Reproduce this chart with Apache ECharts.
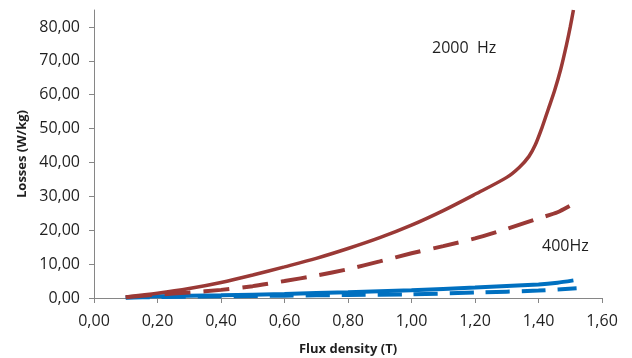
<!DOCTYPE html>
<html>
<head>
<meta charset="utf-8">
<script src="https://cdn.jsdelivr.net/npm/echarts@6/dist/echarts.min.js"></script>
<style>
  html, body { margin: 0; padding: 0; background: #fff; }
  #chart { width: 632px; height: 358px; }
</style>
</head>
<body>
<div id="chart"></div>
<script>
// 2000 Hz, solid
var redSolidX = [0.10, 0.20, 0.30, 0.40, 0.50, 0.60, 0.70, 0.80, 0.90, 1.00, 1.10, 1.20, 1.30, 1.34, 1.37, 1.39, 1.41, 1.43, 1.45, 1.47, 1.49, 1.50, 1.51]
var redSolidY = [0.3, 1.4, 2.8, 4.6, 6.8, 9.2, 11.7, 14.6, 17.8, 21.5, 25.8, 30.6, 35.6, 38.6, 41.8, 45.2, 50.0, 55.5, 61.0, 67.5, 75.5, 80.0, 85.0]
// 2000 Hz, dashed
var redDashX = [0.10, 0.20, 0.30, 0.40, 0.50, 0.60, 0.70, 0.80, 0.90, 1.00, 1.10, 1.20, 1.30, 1.40, 1.46, 1.52]
var redDashY = [0.2, 1.0, 1.6, 2.4, 3.5, 5.0, 6.6, 8.5, 10.8, 13.2, 15.3, 17.6, 20.4, 23.5, 25.3, 28.3]
// 400 Hz, solid
var blueSolidX = [0.10, 0.20, 0.40, 0.60, 0.80, 1.00, 1.20, 1.40, 1.46, 1.51]
var blueSolidY = [0.2, 0.5, 0.8, 1.2, 1.7, 2.3, 3.1, 4.0, 4.5, 5.2]
// 400 Hz, dashed
var blueDashX = [0.10, 0.20, 0.40, 0.60, 0.80, 1.00, 1.20, 1.40, 1.52]
var blueDashY = [0.1, 0.3, 0.5, 0.7, 0.9, 1.1, 1.6, 2.2, 2.9]

var yTicks = [0, 10, 20, 30, 40, 50, 60, 70, 80]

function pairs(xs, ys) {
  return xs.map(function (x, i) { return [x, ys[i]] })
}
function comma(v) {
  return v.toFixed(2).replace('.', ',')
}

var fontFamily = 'Open Sans'
var textColor = '#1f1f1f'
var axisColor = '#868686'

var chart = echarts.init(document.getElementById('chart'))
chart.setOption({
  animation: false,
  grid: { left: 94, right: 30, top: 10, bottom: 60, outerBoundsMode: 'none' },
  xAxis: {
    type: 'value',
    min: 0,
    max: 1.6,
    interval: 0.2,
    name: 'Flux density (T)',
    nameLocation: 'middle',
    nameGap: 45,
    nameTextStyle: { fontFamily: fontFamily, fontSize: 13, fontWeight: 'bold', color: textColor },
    axisLine: { lineStyle: { color: axisColor, width: 1 } },
    axisTick: { show: true, length: 5, lineStyle: { color: axisColor } },
    axisLabel: {
      margin: 15,
      fontFamily: fontFamily,
      fontSize: 16,
      color: textColor,
      formatter: comma
    },
    splitLine: { show: false }
  },
  yAxis: {
    type: 'value',
    min: 0,
    max: 85,
    interval: 10,
    name: 'Losses (W/kg)',
    nameLocation: 'middle',
    nameGap: 65,
    nameTextStyle: { fontFamily: fontFamily, fontSize: 13, fontWeight: 'bold', color: textColor },
    axisLine: { show: true, lineStyle: { color: axisColor, width: 1 } },
    axisTick: { show: true, length: 5, lineStyle: { color: axisColor }, customValues: yTicks },
    axisLabel: {
      margin: 14,
      fontFamily: fontFamily,
      fontSize: 16,
      color: textColor,
      formatter: comma,
      customValues: yTicks
    },
    splitLine: { show: false }
  },
  series: [
    {
      type: 'line',
      data: pairs(blueDashX, blueDashY),
      showSymbol: false,
      smooth: 0.2,
      lineStyle: { color: '#0070C0', width: 4, type: [24, 12] }
    },
    {
      type: 'line',
      data: pairs(blueSolidX, blueSolidY),
      showSymbol: false,
      smooth: 0.2,
      lineStyle: { color: '#0070C0', width: 4 }
    },
    {
      type: 'line',
      data: pairs(redDashX, redDashY),
      showSymbol: false,
      smooth: 0.2,
      lineStyle: { color: '#9A3936', width: 4, type: [26, 13] }
    },
    {
      type: 'line',
      data: pairs(redSolidX, redSolidY),
      showSymbol: false,
      smooth: 0.3,
      lineStyle: { color: '#9A3936', width: 3.5 }
    }
  ],
  graphic: [
    {
      type: 'text',
      left: 432,
      top: 40,
      style: { text: '2000  Hz', font: '16px "Open Sans"', fill: textColor }
    },
    {
      type: 'text',
      left: 542,
      top: 238,
      style: { text: '400Hz', font: '16px "Open Sans"', fill: textColor }
    }
  ]
})
</script>
</body>
</html>
